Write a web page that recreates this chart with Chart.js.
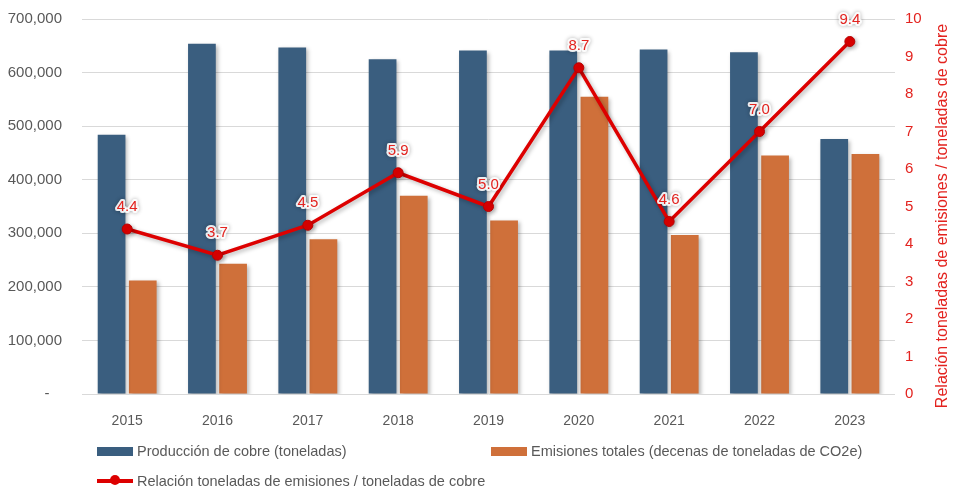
<!DOCTYPE html>
<html>
<head>
<meta charset="utf-8">
<script src="https://cdn.jsdelivr.net/npm/chart.js@4.4.1/dist/chart.umd.min.js"></script>
<style>
  body { margin: 0; background: #fff; font-family: "Liberation Sans", Arial, sans-serif; }
  #wrap { position: relative; width: 953px; height: 490px; overflow: hidden; }
  #myChart { display: block; position: absolute; left: 0; top: -10px; }
  #legend .item { position: absolute; display: flex; align-items: center; font-size: 14.5px; color: #595959; white-space: nowrap; }
  #legend .box { display: inline-block; width: 36px; height: 9px; margin-right: 4px; }
  #legend .line { position: relative; display: inline-block; width: 36px; height: 4px; margin-right: 4px; background: #DD0000; }
  #legend .line::after { content: ""; position: absolute; left: 13px; top: -4px; width: 10px; height: 10px; border-radius: 50%; background: #DD0000; }
</style>
</head>
<body>
<div id="wrap">
  <canvas id="myChart" width="953" height="500"></canvas>
  <div id="legend"></div>
</div>
<script>
const years = ['2015', '2016', '2017', '2018', '2019', '2020', '2021', '2022', '2023'];
const produccion = [484000, 654000, 647000, 625000, 641000, 641000, 643000, 638000, 476000];
const emisiones = [212000, 243000, 289000, 370000, 324000, 555000, 297000, 445000, 448000];
const relacion = [4.4, 3.7, 4.5, 5.9, 5.0, 8.7, 4.6, 7.0, 9.4];

const labelProd = 'Producción de cobre (toneladas)';
const labelEmis = 'Emisiones totales (decenas de toneladas de CO2e)';
const labelRel = 'Relación toneladas de emisiones / toneladas de cobre';

const red = '#E3231F';
const grey = '#595959';

// soft shadow like the Excel original
const shadowPlugin = {
    id: 'shadow',
    beforeDatasetDraw(chart) {
        const c = chart.ctx;
        c.save();
        c.shadowColor = 'rgba(0,0,0,0.28)';
        c.shadowBlur = 4;
        c.shadowOffsetX = 2;
        c.shadowOffsetY = 2;
    },
    afterDatasetDraw(chart) {
        chart.ctx.restore();
    }
};

// value labels above the line points + right axis title
const labelsPlugin = {
    id: 'valueLabels',
    afterDatasetsDraw(chart) {
        const c = chart.ctx;
        const meta = chart.getDatasetMeta(2);
        c.save();
        c.font = '15px "Liberation Sans", Arial, sans-serif';
        c.textAlign = 'center';
        c.textBaseline = 'middle';
        meta.data.forEach((pt, i) => {
            const txt = relacion[i].toFixed(1);
            c.shadowColor = 'rgba(0,0,0,0.35)';
            c.shadowBlur = 4;
            c.strokeStyle = 'rgba(255,255,255,0.9)';
            c.lineWidth = 4;
            c.lineJoin = 'round';
            c.strokeText(txt, pt.x, pt.y - 22);
            c.shadowColor = 'transparent';
            c.fillStyle = red;
            c.fillText(txt, pt.x, pt.y - 22);
        });
        c.restore();
    },
    afterDraw(chart) {
        const c = chart.ctx;
        c.save();
        c.translate(943, 226);
        c.rotate(-Math.PI / 2);
        c.font = '16px "Liberation Sans", Arial, sans-serif';
        c.textAlign = 'center';
        c.textBaseline = 'middle';
        c.fillStyle = red;
        c.fillText(labelRel, 0, 0);
        c.restore();
    }
};

const ctx = document.getElementById('myChart');

const chart = new Chart(ctx, {
    data: {
        labels: years,
        datasets: [
            {
                type: 'bar',
                label: labelProd,
                data: produccion,
                backgroundColor: '#3A5E7F',
                yAxisID: 'y',
                order: 1,
                categoryPercentage: 0.69,
                barPercentage: 0.89
            },
            {
                type: 'bar',
                label: labelEmis,
                data: emisiones,
                backgroundColor: '#CF703A',
                yAxisID: 'y',
                order: 1,
                categoryPercentage: 0.69,
                barPercentage: 0.89
            },
            {
                type: 'line',
                label: labelRel,
                data: relacion,
                yAxisID: 'y2',
                borderColor: '#DD0000',
                borderWidth: 3.5,
                pointRadius: 5,
                pointBackgroundColor: '#DD0000',
                pointBorderColor: '#B80000',
                pointBorderWidth: 1,
                tension: 0,
                order: 0
            }
        ]
    },
    options: {
        responsive: false,
        animation: false,
        layout: { padding: { top: 8, left: 0, right: 0, bottom: 0 } },
        plugins: {
            legend: { display: false },
            tooltip: { enabled: false }
        },
        scales: {
            x: {
                grid: { display: false },
                border: { display: false },
                ticks: { color: grey, font: { size: 14 }, padding: 11 },
                afterFit(scale) { scale.height = 96; }
            },
            y: {
                position: 'left',
                min: 0,
                max: 700000,
                ticks: {
                    stepSize: 100000,
                    color: grey,
                    font: { size: 15 },
                    padding: 20,
                    callback: v => v === 0 ? '-   ' : v.toLocaleString('en-US')
                },
                grid: { color: '#D9D9D9', drawTicks: false },
                border: { display: false },
                afterFit(scale) { scale.width = 82; }
            },
            y2: {
                position: 'right',
                min: 0,
                max: 10,
                ticks: { stepSize: 1, color: red, font: { size: 15 }, padding: 10 },
                grid: { display: false, drawTicks: false },
                border: { display: false },
                afterFit(scale) { scale.width = 58; }
            }
        }
    },
    plugins: [shadowPlugin, labelsPlugin]
});

// legend laid out like the original (two rows, left aligned)
const legend = document.getElementById('legend');
const items = [
    { text: labelProd, color: '#3A5E7F', kind: 'box', x: 97, y: 451 },
    { text: labelEmis, color: '#CF703A', kind: 'box', x: 491, y: 451 },
    { text: labelRel, color: '#DD0000', kind: 'line', x: 97, y: 481 }
];
items.forEach(it => {
    const d = document.createElement('div');
    d.className = 'item';
    d.style.left = it.x + 'px';
    d.style.top = (it.y - 9) + 'px';
    d.style.height = '18px';
    const sw = document.createElement('span');
    sw.className = it.kind;
    if (it.kind === 'box') sw.style.background = it.color;
    d.appendChild(sw);
    d.appendChild(document.createTextNode(it.text));
    legend.appendChild(d);
});
</script>
</body>
</html>
